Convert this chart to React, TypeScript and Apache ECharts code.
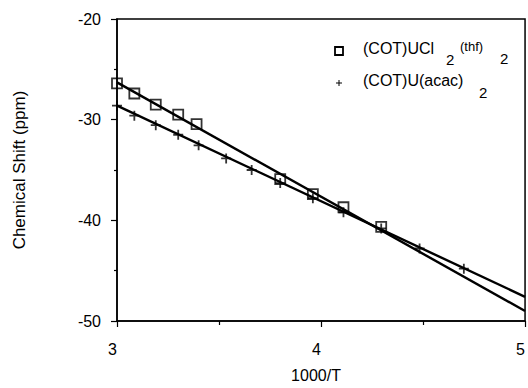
import React, { useEffect, useRef } from "react";
import * as echarts from "echarts";

const xTicks = [3, 4, 5];
const yTicks = [-50, -40, -30, -20];

const squaresX = [3.0, 3.085, 3.19, 3.3, 3.39, 3.8, 3.96, 4.11, 4.295];
const squaresY = [-26.4, -27.4, -28.5, -29.5, -30.45, -35.9, -37.4, -38.7, -40.65];

const plusX = [3.0, 3.085, 3.19, 3.3, 3.4, 3.535, 3.66, 3.8, 3.96, 4.11, 4.295, 4.483, 4.7];
const plusY = [-28.6, -29.6, -30.55, -31.5, -32.55, -33.85, -35.0, -36.3, -37.8, -39.2, -40.8, -42.8, -44.8];

const squaresFitX = [3, 5];
const squaresFitY = [-26.3, -49.0];
const plusFitX = [3, 5];
const plusFitY = [-28.6, -47.6];

const zip = (xs: number[], ys: number[]) => xs.map((x, i) => [x, ys[i]]);

const FONT = "'Liberation Sans', Arial, Helvetica, sans-serif";

export default function App() {
  const ref = useRef<HTMLDivElement>(null);
  useEffect(() => {
    if (!ref.current) return;
    const chart = echarts.init(ref.current, null, { renderer: "svg" });
    const txt = (text: string, x: number, y: number, size: number) => ({
      type: "text",
      x,
      y,
      style: {
        text,
        fontSize: size,
        fontFamily: FONT,
        fill: "#000",
        textVerticalAlign: "middle",
        verticalAlign: "middle",
      },
    });
    chart.setOption({
      animation: false,
      backgroundColor: "#fff",
      grid: {
        left: 117,
        top: 19,
        right: -3,
        bottom: 60,
        show: true,
        borderColor: "#000",
        borderWidth: 1.5,
      },
      xAxis: {
        type: "value",
        min: xTicks[0],
        max: xTicks[xTicks.length - 1],
        interval: 1,
        name: "1000/T",
        nameLocation: "middle",
        nameGap: 46,
        nameTextStyle: { fontSize: 16, color: "#000", fontFamily: FONT, padding: [0, 10, 0, 0] },
        axisLine: { show: true, lineStyle: { color: "#000", width: 1.5 } },
        axisTick: { show: true, length: 6, lineStyle: { color: "#000", width: 1.2 } },
        minorTick: { show: true, splitNumber: 2, length: 4, lineStyle: { color: "#000", width: 1.2 } },
        splitLine: { show: false },
        axisLabel: {
          fontSize: 16,
          color: "#000",
          fontFamily: FONT,
          margin: 20,
          padding: [0, 9, 0, 0],
          formatter: (v: number) => String(v),
        },
      },
      yAxis: {
        type: "value",
        min: yTicks[0],
        max: yTicks[yTicks.length - 1],
        interval: 10,
        name: "Chemical Shift (ppm)",
        nameLocation: "middle",
        nameGap: 89,
        nameRotate: 90,
        nameTextStyle: { fontSize: 17, color: "#000", fontFamily: FONT },
        axisLine: { show: true, lineStyle: { color: "#000", width: 1.5 } },
        axisTick: { show: true, length: 6, lineStyle: { color: "#000", width: 1.2 } },
        minorTick: { show: true, splitNumber: 2, length: 3, lineStyle: { color: "#000", width: 1.2 } },
        splitLine: { show: false },
        axisLabel: { fontSize: 16, color: "#000", fontFamily: FONT, margin: 16 },
      },
      series: [
        {
          type: "line",
          data: zip(squaresFitX, squaresFitY),
          showSymbol: false,
          lineStyle: { color: "#000", width: 2.4 },
          z: 2,
        },
        {
          type: "line",
          data: zip(plusFitX, plusFitY),
          showSymbol: false,
          lineStyle: { color: "#000", width: 2.4 },
          z: 2,
        },
        {
          type: "scatter",
          data: zip(squaresX, squaresY),
          symbol: "rect",
          symbolSize: 10,
          itemStyle: { color: "rgba(255,255,255,0)", borderColor: "#000", borderWidth: 1.8 },
          z: 3,
        },
        {
          type: "scatter",
          data: zip(plusX, plusY),
          symbol: "path://M5,0 L5,10 M0,5 L10,5",
          symbolSize: 10,
          itemStyle: { color: "none", borderColor: "#000", borderWidth: 1.8 },
          z: 3,
        },
      ],
      graphic: [
        {
          type: "rect",
          shape: { x: 335, y: 47, width: 8, height: 8 },
          style: { fill: "none", stroke: "#000", lineWidth: 1.8 },
        },
        { type: "line", shape: { x1: 339, y1: 80, x2: 339, y2: 86 }, style: { stroke: "#000", lineWidth: 1 } },
        { type: "line", shape: { x1: 336, y1: 83, x2: 342, y2: 83 }, style: { stroke: "#000", lineWidth: 1 } },
        txt("(COT)UCl", 363, 48, 16),
        txt("2", 446, 59, 15),
        txt("(thf)", 460, 46, 13),
        txt("2", 500, 58, 15),
        txt("(COT)U(acac)", 363, 80, 16),
        txt("2", 479, 92, 15),
      ],
    });
    return () => chart.dispose();
  }, []);
  return (
    <div
      ref={ref}
      style={{ position: "absolute", left: 0, top: 0, width: 528, height: 388 }}
    />
  );
}
